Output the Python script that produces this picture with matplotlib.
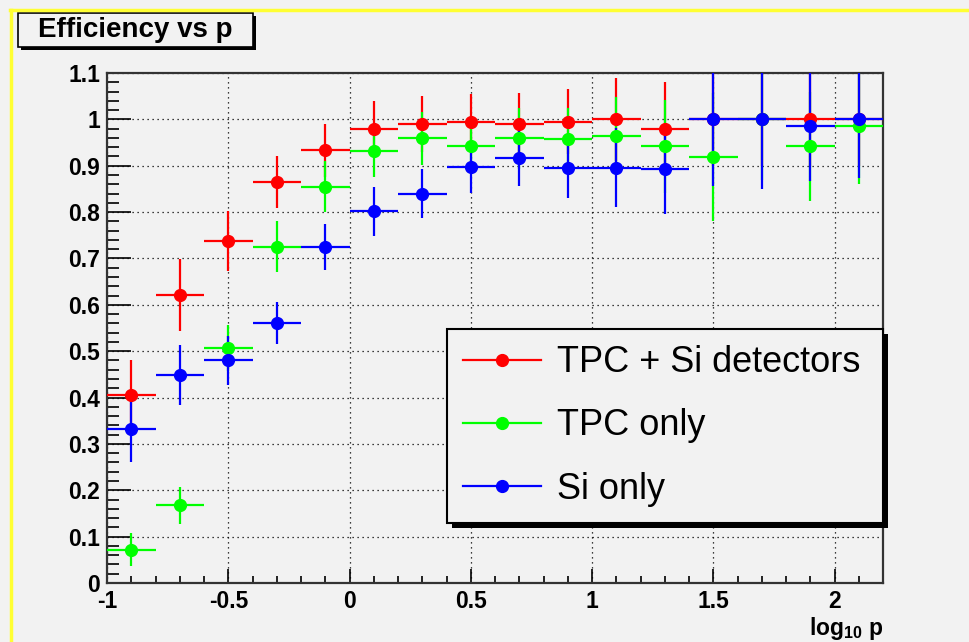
import matplotlib.pyplot as plt
from matplotlib.lines import Line2D
from matplotlib.patches import Rectangle

plt.rcParams['font.family'] = ['Liberation Sans', 'DejaVu Sans']
plt.rcParams['mathtext.default'] = 'regular'

# bins in log10 p (width 0.2)
centers = [-0.9, -0.7, -0.5, -0.3, -0.1, 0.1, 0.3, 0.5, 0.7, 0.9, 1.1, 1.3, 1.5, 1.7, 1.9, 2.1]
xerr = [0.1] * 16

# TPC + Si detectors
eff_all = [0.405, 0.621, 0.738, 0.865, 0.933, 0.980, 0.990, 0.995, 0.990, 0.995, 1.000, 0.980, 1.000, 1.000, 1.000, 1.000]
err_all = [0.075, 0.077, 0.065, 0.057, 0.057, 0.060, 0.060, 0.060, 0.066, 0.070, 0.090, 0.100, 0.100, 0.100, 0.100, 0.100]

# TPC only
eff_tpc = [0.072, 0.168, 0.507, 0.725, 0.855, 0.932, 0.959, 0.942, 0.959, 0.957, 0.964, 0.942, 0.919, 1.000, 0.942, 0.986]
err_tpc = [0.035, 0.040, 0.050, 0.055, 0.055, 0.056, 0.057, 0.055, 0.065, 0.068, 0.085, 0.100, 0.138, 0.130, 0.117, 0.125]

# Si only
eff_si = [0.332, 0.449, 0.480, 0.560, 0.725, 0.802, 0.840, 0.898, 0.916, 0.896, 0.896, 0.893, 1.000, 1.000, 0.986, 1.000]
err_si = [0.070, 0.065, 0.052, 0.045, 0.050, 0.053, 0.052, 0.056, 0.060, 0.065, 0.085, 0.097, 0.144, 0.150, 0.120, 0.126]

series = [
    ('TPC + Si detectors', eff_all, err_all, '#ff0000'),
    ('TPC only', eff_tpc, err_tpc, '#00ff00'),
    ('Si only', eff_si, err_si, '#0000ff'),
]

xticks = [-1, -0.5, 0, 0.5, 1, 1.5, 2]
xticklabels = ['-1', '-0.5', '0', '0.5', '1', '1.5', '2']
yticks = [0, 0.1, 0.2, 0.3, 0.4, 0.5, 0.6, 0.7, 0.8, 0.9, 1.0, 1.1]
yticklabels = ['0', '0.1', '0.2', '0.3', '0.4', '0.5', '0.6', '0.7', '0.8', '0.9', '1', '1.1']

W, H = 969, 642
bg = '#f2f2f2'
fig = plt.figure(figsize=(W / 100, H / 100), dpi=100, facecolor=bg)
ax = fig.add_axes([107 / W, 1 - 583 / H, 776 / W, 510 / H])
ax.set_facecolor(bg)

handles = []
for name, eff, err, col in series:
    ax.errorbar(centers, eff, xerr=xerr, yerr=err, fmt='o', color=col,
                ms=8.5, elinewidth=1.6, capsize=0, zorder=3)
    handles.append(Line2D([], [], color=col, lw=1.6, marker='o', ms=8.5))

ax.set_xlim(-1, 2.2)
ax.set_ylim(0, 1.1)
ax.set_xticks(xticks)
ax.set_xticklabels(xticklabels)
ax.set_yticks(yticks)
ax.set_yticklabels(yticklabels)
ax.set_xticks([i / 10 for i in range(-10, 23)], minor=True)
ax.set_yticks([i / 50 for i in range(0, 56)], minor=True)

ax.tick_params(axis='x', which='major', direction='in', length=10, width=1.2, pad=5,
               labelsize=16.5, top=False)
ax.tick_params(axis='x', which='minor', direction='in', length=5, width=1.2, top=False)
ax.tick_params(axis='y', which='major', direction='in', length=17, width=1.2, pad=5,
               labelsize=16.5, right=False)
ax.tick_params(axis='y', which='minor', direction='in', length=8.5, width=1.2, right=False)
for lab in ax.get_xticklabels() + ax.get_yticklabels():
    lab.set_fontweight('bold')

ax.grid(True, which='major', color='black', linestyle=(0, (1, 3)), linewidth=0.9)
ax.set_axisbelow(True)
for s in ax.spines.values():
    s.set_linewidth(1.6)
    s.set_color('#333333')

ax.text(1.0, -0.063, r'log$_{\mathregular{10}}$ p', transform=ax.transAxes,
        ha='right', va='top', fontsize=16.5, fontweight='bold')

leg = ax.legend(handles, [s[0] for s in series], loc='upper left', mode='expand',
                bbox_to_anchor=(340 / 776, 0, 436 / 776, 254 / 510), fontsize=26,
                frameon=True, fancybox=False, edgecolor='black', facecolor=bg,
                framealpha=1, handlelength=2.15, handletextpad=0.45,
                labelspacing=0.78, borderpad=0.45, borderaxespad=0)
leg.get_frame().set_linewidth(1.5)
leg.set_zorder(6)

# legend shadow, drawn in the axes just below the legend
fig.canvas.draw()
bb = leg.get_window_extent()
ax.add_patch(Rectangle((bb.x0 + 5, bb.y0 - 5), bb.width, bb.height, transform=None,
                       facecolor='black', edgecolor='none', zorder=5, clip_on=False))

# title box with shadow
tx0, ty0, tx1, ty1 = 18, 13, 253, 47
fig.add_artist(Rectangle(((tx0 + 3) / W, 1 - (ty1 + 3) / H), (tx1 - tx0) / W, (ty1 - ty0) / H,
                         transform=fig.transFigure, facecolor='black', edgecolor='none'))
fig.add_artist(Rectangle((tx0 / W, 1 - ty1 / H), (tx1 - tx0) / W, (ty1 - ty0) / H,
                         transform=fig.transFigure, facecolor=bg, edgecolor='black', lw=1.2))
fig.text((tx0 + tx1) / 2 / W, 1 - (ty0 + ty1) / 2 / H, 'Efficiency vs p',
         ha='center', va='center', fontsize=20, fontweight='bold')

# yellow border of the canvas
fig.add_artist(Line2D([11 / W, 11 / W], [0, 1 - 10 / H], transform=fig.transFigure,
                      color='#ffff33', lw=2.5))
fig.add_artist(Line2D([10 / W, 1], [1 - 10 / H, 1 - 10 / H], transform=fig.transFigure,
                      color='#ffff33', lw=2.5))

fig.savefig('out.png', dpi=100, facecolor=bg)
